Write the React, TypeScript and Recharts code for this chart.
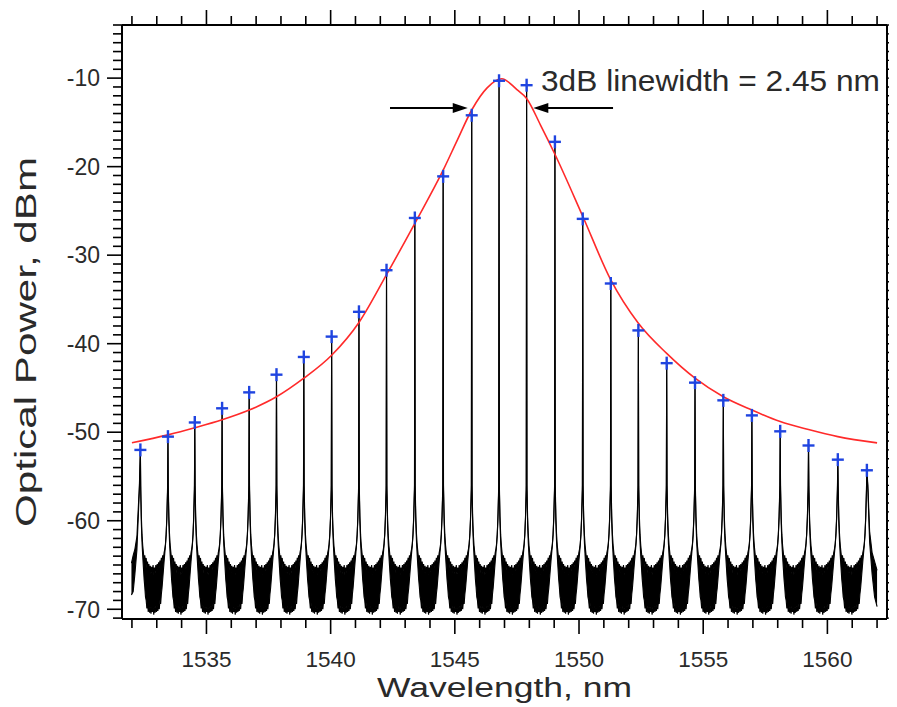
import React from "react";
import {
  ComposedChart,
  XAxis,
  YAxis,
  Area,
  Line,
  Scatter,
  ReferenceLine,
  ReferenceDot,
} from "recharts";

const FONT = '"Liberation Sans", Arial, Helvetica, sans-serif';
const TEXT = "#2a2a2a";

// comb lines: peak wavelength (nm) and peak power (dBm), blue crosses
const peakWl = [
  1532.34, 1533.45, 1534.53, 1535.63, 1536.72, 1537.82, 1538.92, 1540.04, 1541.14,
  1542.25, 1543.39, 1544.53, 1545.68, 1546.78, 1547.89, 1549.03, 1550.15, 1551.28,
  1552.39, 1553.53, 1554.67, 1555.81, 1556.96, 1558.1, 1559.24, 1560.42, 1561.59,
];
const peakDb = [
  -52.0, -50.5, -48.9, -47.3, -45.5, -43.5, -41.5, -39.2, -36.4,
  -31.7, -25.8, -21.1, -14.2, -10.3, -10.8, -17.2, -25.9, -33.2,
  -38.5, -42.2, -44.4, -46.4, -48.1, -49.9, -51.5, -53.1, -54.3,
];

// fitted envelope (red)
const fitWl = [
  1532.0, 1533.45, 1534.53, 1535.63, 1536.72, 1537.82, 1538.92, 1540.04, 1541.14,
  1542.25, 1543.39, 1544.53, 1545.1, 1545.68, 1546.3, 1546.89, 1547.5, 1547.89,
  1548.45, 1549.03, 1550.15, 1551.28, 1552.39, 1553.53, 1554.67, 1555.81, 1556.96,
  1558.1, 1559.24, 1560.42, 1562.0,
];
const fitDb = [
  -51.2, -50.3, -49.5, -48.6, -47.5, -46.0, -43.9, -41.3, -37.6,
  -32.2, -26.4, -20.4, -17.0, -13.6, -11.1, -10.08, -11.3, -12.3,
  -15.3, -18.6, -25.6, -32.8, -37.7, -41.1, -43.9, -46.0, -47.5,
  -48.8, -49.7, -50.5, -51.2,
];

// trace between two neighbouring lines, position as fraction of the line spacing
const gapT = [
  0.012, 0.035, 0.06, 0.085, 0.11, 0.135, 0.16, 0.185, 0.21, 0.235,
  0.26, 0.285, 0.31, 0.335, 0.36, 0.385, 0.41, 0.435, 0.46, 0.485,
  0.51, 0.535, 0.56, 0.585, 0.61, 0.635, 0.66, 0.685, 0.71, 0.735,
  0.76, 0.785, 0.81, 0.835, 0.86, 0.885, 0.91, 0.935, 0.96, 0.988,
];
const gapHigh = [
  -56.0, -59.5, -61.6, -62.8, -63.6, -64.4, -63.9, -64.9, -64.2, -65.3,
  -64.6, -65.6, -64.9, -65.9, -65.1, -66.0, -65.2, -65.8, -65.0, -66.1,
  -65.3, -65.9, -65.0, -65.7, -64.9, -65.5, -64.7, -65.3, -64.5, -65.0,
  -64.2, -64.7, -63.9, -64.3, -63.6, -63.2, -62.6, -61.5, -59.5, -56.0,
];
const gapLow = [
  -56.5, -60.3, -62.5, -64.0, -65.3, -66.6, -67.5, -68.6, -69.0, -69.9,
  -69.3, -70.3, -69.6, -70.4, -69.8, -70.5, -69.7, -70.3, -69.9, -70.6,
  -69.8, -70.4, -69.6, -70.3, -69.7, -70.2, -69.4, -70.0, -69.0, -69.4,
  -68.3, -67.6, -66.6, -65.6, -64.6, -63.7, -62.8, -61.6, -59.8, -56.5,
];

// trace before the first line and after the last line
const leadWl = [1531.98, 1532.05, 1532.12, 1532.2, 1532.3];
const leadLow = [-68.4, -68.0, -66.0, -63.3, -56.5];
const leadHigh = [-64.8, -63.9, -63.2, -61.8, -56.0];
const trailWl = [1561.63, 1561.7, 1561.8, 1561.9, 1562.0];
const trailLow = [-56.5, -62.4, -66.0, -68.6, -69.7];
const trailHigh = [-56.0, -61.2, -63.6, -64.6, -65.6];

// axis ticks
const xLabels = [1535, 1540, 1545, 1550, 1555, 1560];
const yLabels = [-70, -60, -50, -40, -30, -20, -10];
const xTicks: number[] = [];
for (let v = 1532; v <= 1562; v++) xTicks.push(v);
const yTicks: number[] = [];
for (let v = -71; v <= -4; v++) yTicks.push(v);

const trace: { wl: number; range: [number, number] }[] = [];
leadWl.forEach((w, i) => trace.push({ wl: w, range: [leadLow[i], leadHigh[i]] }));
peakWl.forEach((p, k) => {
  trace.push({ wl: p, range: [peakDb[k], peakDb[k]] });
  if (k < peakWl.length - 1) {
    const next = peakWl[k + 1];
    gapT.forEach((t, i) =>
      trace.push({ wl: p + t * (next - p), range: [gapLow[i], gapHigh[i]] })
    );
  }
});
trailWl.forEach((w, i) => trace.push({ wl: w, range: [trailLow[i], trailHigh[i]] }));

const fit = fitWl.map((wl, i) => ({ wl, db: fitDb[i] }));
const peaks = peakWl.map((wl, i) => ({ wl, db: peakDb[i] }));

const BottomTick = (props: any) => {
  const { x, y, payload } = props;
  const major = xLabels.includes(payload.value);
  return (
    <g>
      <line x1={x} y1={y} x2={x} y2={y + (major ? 15 : 9)} stroke="#000" strokeWidth={1.6} />
      {major && (
        <text x={x} y={y + 48} textAnchor="middle" fontSize={22.5} fill={TEXT} fontFamily={FONT}>
          {payload.value}
        </text>
      )}
    </g>
  );
};

const TopTick = (props: any) => {
  const { x, y, payload } = props;
  const major = xLabels.includes(payload.value);
  return <line x1={x} y1={y} x2={x} y2={y - (major ? 15 : 9)} stroke="#000" strokeWidth={1.6} />;
};

const LeftTick = (props: any) => {
  const { x, y, payload } = props;
  const major = yLabels.includes(payload.value);
  return (
    <g>
      <line x1={x - (major ? 15 : 9)} y1={y} x2={x} y2={y} stroke="#000" strokeWidth={1.6} />
      {major && (
        <text x={x - 22} y={y} dy="0.36em" textAnchor="end" fontSize={23} fill={TEXT} fontFamily={FONT}>
          {payload.value}
        </text>
      )}
    </g>
  );
};

const RightTick = (props: any) => {
  const { x, y, payload } = props;
  const major = yLabels.includes(payload.value);
  return <line x1={x} y1={y} x2={x + (major ? 9 : 7)} y2={y} stroke="#000" strokeWidth={1.4} />;
};

const XTitle = (props: any) => {
  const vb = props.viewBox;
  return (
    <text
      x={vb.x + vb.width / 2}
      y={vb.y + 78}
      textAnchor="middle"
      fontSize={27}
      fill={TEXT}
      fontFamily={FONT}
      textLength={255}
      lengthAdjust="spacingAndGlyphs"
    >
      Wavelength, nm
    </text>
  );
};

const YTitle = (props: any) => {
  const vb = props.viewBox;
  const cx = 28;
  const cy = vb.y + vb.height / 2 + 20;
  return (
    <text
      x={cx}
      y={cy}
      transform={`rotate(-90, ${cx}, ${cy})`}
      textAnchor="middle"
      fontSize={30}
      fill={TEXT}
      fontFamily={FONT}
      textLength={370}
      lengthAdjust="spacingAndGlyphs"
    >
      Optical Power, dBm
    </text>
  );
};

const Cross = (props: any) => {
  const { cx, cy } = props;
  return (
    <g stroke="#1f44e0" strokeWidth={2.4}>
      <line x1={cx - 6} y1={cy} x2={cx + 6} y2={cy} />
      <line x1={cx} y1={cy - 6.5} x2={cx} y2={cy + 6.5} />
    </g>
  );
};

const HeadRight = (props: any) => {
  const { cx, cy } = props;
  return <polygon points={`${cx},${cy} ${cx - 15},${cy - 5} ${cx - 15},${cy + 5}`} fill="#000" />;
};

const HeadLeft = (props: any) => {
  const { cx, cy } = props;
  return <polygon points={`${cx},${cy} ${cx + 15},${cy - 5} ${cx + 15},${cy + 5}`} fill="#000" />;
};

const Note = (props: any) => {
  const { cx, cy } = props;
  return (
    <text
      x={cx}
      y={cy}
      fontSize={30}
      fill={TEXT}
      fontFamily={FONT}
      textLength={339}
      lengthAdjust="spacingAndGlyphs"
    >
      3dB linewidth = 2.45 nm
    </text>
  );
};

export default function App() {
  return (
    <div style={{ width: 889, height: 699, background: "#fff" }}>
      <ComposedChart width={889} height={699} margin={{ top: 0, right: 0, bottom: 0, left: 0 }}>
        <XAxis
          xAxisId="bottom"
          dataKey="wl"
          type="number"
          domain={[1531.6, 1562.4]}
          allowDataOverflow
          ticks={xTicks}
          interval={0}
          tickSize={0}
          tickMargin={0}
          tickLine={false}
          tick={<BottomTick />}
          axisLine={{ stroke: "#000", strokeWidth: 2 }}
          height={88}
          label={{ content: <XTitle /> }}
        />
        <XAxis
          xAxisId="top"
          orientation="top"
          dataKey="wl"
          type="number"
          domain={[1531.6, 1562.4]}
          allowDataOverflow
          ticks={xTicks}
          interval={0}
          tickSize={0}
          tickMargin={0}
          tickLine={false}
          tick={<TopTick />}
          axisLine={{ stroke: "#000", strokeWidth: 2 }}
          height={17}
        />
        <YAxis
          yAxisId="left"
          type="number"
          domain={[-71.1, -4]}
          allowDataOverflow
          ticks={yTicks}
          interval={0}
          tickSize={0}
          tickMargin={0}
          tickLine={false}
          tick={<LeftTick />}
          axisLine={{ stroke: "#000", strokeWidth: 2 }}
          width={114}
          label={{ content: <YTitle /> }}
        />
        <YAxis
          yAxisId="right"
          orientation="right"
          type="number"
          domain={[-71.1, -4]}
          allowDataOverflow
          ticks={yTicks}
          interval={0}
          tickSize={0}
          tickMargin={0}
          tickLine={false}
          tick={<RightTick />}
          axisLine={{ stroke: "#000", strokeWidth: 2 }}
          width={10}
        />
        <Area
          xAxisId="bottom"
          yAxisId="left"
          data={trace}
          dataKey="range"
          type="linear"
          stroke="#000"
          strokeWidth={1.1}
          fill="#000"
          fillOpacity={1}
          dot={false}
          activeDot={false}
          isAnimationActive={false}
        />
        <Line
          xAxisId="top"
          yAxisId="right"
          data={fit}
          dataKey="db"
          type="monotone"
          stroke="#ff2a2a"
          strokeWidth={1.6}
          dot={false}
          activeDot={false}
          isAnimationActive={false}
        />
        <Scatter
          xAxisId="bottom"
          yAxisId="left"
          data={peaks}
          dataKey="db"
          shape={<Cross />}
          isAnimationActive={false}
        />
        <ReferenceLine
          xAxisId="bottom"
          yAxisId="left"
          segment={[{ x: 1542.39, y: -13.39 }, { x: 1545.0, y: -13.39 }]}
          stroke="#000"
          strokeWidth={2}
        />
        <ReferenceLine
          xAxisId="bottom"
          yAxisId="left"
          segment={[{ x: 1548.7, y: -13.39 }, { x: 1551.37, y: -13.39 }]}
          stroke="#000"
          strokeWidth={2}
        />
        <ReferenceDot xAxisId="bottom" yAxisId="left" x={1545.52} y={-13.39} shape={<HeadRight />} />
        <ReferenceDot xAxisId="bottom" yAxisId="left" x={1548.16} y={-13.39} shape={<HeadLeft />} />
        <ReferenceDot xAxisId="bottom" yAxisId="left" x={1548.47} y={-11.5} shape={<Note />} />
      </ComposedChart>
    </div>
  );
}
